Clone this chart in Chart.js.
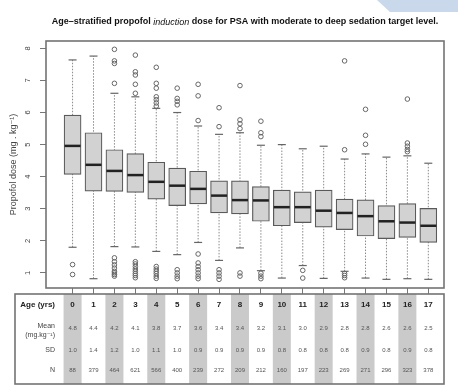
<!DOCTYPE html>
<html>
<head>
<meta charset="utf-8">
<script src="https://cdn.jsdelivr.net/npm/chart.js@4.4.0/dist/chart.umd.min.js"></script>
<style>
	html, body { margin: 0; padding: 0; background: #fff; }
	#wrap { position: relative; width: 458px; height: 387px; }
	#corner {
		position: absolute; top: 0; right: 0; width: 81px; height: 12px;
		background: #c9d8ea;
		clip-path: polygon(0 0, 100% 0, 100% 100%, 16% 100%);
	}
</style>
</head>
<body>
<div id="wrap">
	<canvas id="myChart" width="458" height="387"></canvas>
	<div id="corner"></div>
</div>
<script>
	// Возраст (лет) и пятичисловые сводки по каждой группе
	const ages = [0, 1, 2, 3, 4, 5, 6, 7, 8, 9, 10, 11, 12, 13, 14, 15, 16, 17];
	const lowWhisker = [1.80, 0.82, 1.82, 1.81, 1.67, 1.57, 1.95, 1.39, 1.78, 1.07, 0.84, 1.23, 0.83, 1.05, 0.84, 0.80, 0.82, 0.80];
	const q1 = [4.07, 3.55, 3.54, 3.51, 3.30, 3.10, 3.15, 2.87, 2.84, 2.61, 2.47, 2.57, 2.43, 2.35, 2.15, 2.07, 2.11, 1.95];
	const medians = [4.96, 4.37, 4.18, 4.05, 3.84, 3.72, 3.62, 3.41, 3.27, 3.26, 3.05, 3.05, 2.94, 2.87, 2.77, 2.61, 2.57, 2.47];
	const q3 = [5.92, 5.37, 4.84, 4.72, 4.45, 4.27, 4.17, 3.87, 3.87, 3.69, 3.58, 3.53, 3.58, 3.30, 3.28, 3.10, 3.16, 3.01];
	const highWhisker = [7.64, 7.76, 6.60, 6.49, 6.13, 6.00, 5.58, 5.32, 5.37, 4.98, 5.00, 4.87, 4.95, 4.55, 4.71, 4.61, 4.65, 4.42];
	const outliers = [
		[1.26, 0.95],
		[],
		[7.97, 7.61, 7.53, 6.91, 1.47, 1.35, 1.25, 1.15, 1.05, 1.0, 0.95, 0.9],
		[7.79, 7.27, 7.17, 6.88, 6.6, 1.35, 1.28, 1.2, 1.12, 1.05, 0.98, 0.92, 0.85],
		[7.41, 6.91, 6.76, 6.49, 6.4, 6.3, 6.2, 1.2, 1.12, 1.05, 0.98, 0.9, 0.83],
		[6.76, 6.44, 6.35, 6.24, 1.1, 1.0, 0.9, 0.82],
		[6.88, 6.52, 5.75, 1.59, 1.31, 1.2, 1.1, 1.0, 0.9, 0.82],
		[6.15, 5.56, 1.1, 1.0, 0.9, 0.8],
		[6.84, 5.77, 5.65, 5.5, 1.0, 0.9],
		[5.73, 5.37, 5.25, 0.99, 0.9, 0.82],
		[],
		[1.08, 0.84],
		[],
		[7.61, 4.84, 0.98, 0.92, 0.85],
		[6.10, 5.29, 5.01],
		[],
		[6.42, 5.05, 4.95, 4.85, 4.78],
		[]
	];

	// Таблица под графиком
	const means = [4.8, 4.4, 4.2, 4.1, 3.8, 3.7, 3.6, 3.4, 3.4, 3.2, 3.1, 3.0, 2.9, 2.8, 2.8, 2.6, 2.6, 2.5];
	const sds = [1.0, 1.4, 1.2, 1.0, 1.1, 1.0, 0.9, 0.9, 0.9, 0.9, 0.8, 0.8, 0.8, 0.8, 0.9, 0.8, 0.9, 0.8];
	const counts = [88, 379, 464, 621, 566, 400, 239, 272, 209, 212, 160, 197, 223, 269, 271, 296, 323, 378];

	const yTicks = [1, 2, 3, 4, 5, 6, 7, 8];
	const FONT = '"Liberation Sans", Arial, "DejaVu Sans", sans-serif';

	// Заголовок с курсивом
	const titlePlugin = {
		id: 'titlePlugin',
		afterDraw(chart) {
			const ctx = chart.ctx;
			const parts = [
				['bold 9px ' + FONT, 'Age\u2013stratified propofol '],
				['italic 9px ' + FONT, 'induction'],
				['bold 9px ' + FONT, ' dose for PSA with moderate to deep sedation target level.']
			];
			ctx.save();
			let total = 0;
			parts.forEach(p => { ctx.font = p[0]; total += ctx.measureText(p[1]).width; });
			const area = chart.chartArea;
			let x = (area.left + area.right) / 2 - total / 2;
			ctx.fillStyle = '#111';
			ctx.textBaseline = 'middle';
			ctx.textAlign = 'left';
			parts.forEach(p => {
				ctx.font = p[0];
				ctx.fillText(p[1], x, 22);
				x += ctx.measureText(p[1]).width;
			});
			ctx.restore();
		}
	};

	// Рамка вокруг области графика
	const framePlugin = {
		id: 'framePlugin',
		afterDatasetsDraw(chart) {
			const {ctx, chartArea: a} = chart;
			ctx.save();
			ctx.strokeStyle = '#737373';
			ctx.lineWidth = 1.6;
			ctx.strokeRect(a.left, a.top, a.right - a.left, a.bottom - a.top);
			ctx.restore();
		}
	};

	// Таблица: Age / Mean / SD / N
	const tablePlugin = {
		id: 'tablePlugin',
		afterDraw(chart) {
			const ctx = chart.ctx;
			const xs = chart.scales.x;
			const top = 294, bottom = 384, left = 15, right = chart.chartArea.right;
			ctx.save();
			ctx.fillStyle = '#cacaca';
			ages.forEach((a, i) => {
				if (i % 2 === 0) {
					const cx = xs.getPixelForValue(a);
					ctx.fillRect(cx - 9, top, 18, bottom - top);
				}
			});
			ctx.strokeStyle = '#737373';
			ctx.lineWidth = 1.6;
			ctx.strokeRect(left, top, right - left, bottom - top);

			ctx.textBaseline = 'middle';
			ctx.textAlign = 'right';
			ctx.fillStyle = '#222';
			ctx.font = 'bold 8px ' + FONT;
			ctx.fillText('Age (yrs)', 55, 305);
			ctx.font = '7px ' + FONT;
			ctx.fillStyle = '#444';
			ctx.fillText('Mean', 55, 326);
			ctx.fillText('(mg.kg\u207B\u00B9)', 55, 335);
			ctx.fillText('SD', 55, 350);
			ctx.fillText('N', 55, 370);

			ctx.textAlign = 'center';
			ages.forEach((a, i) => {
				const cx = xs.getPixelForValue(a);
				ctx.fillStyle = '#222';
				ctx.font = 'bold 8px ' + FONT;
				ctx.fillText(String(a), cx, 305);
				ctx.fillStyle = '#555';
				ctx.font = '6px ' + FONT;
				ctx.fillText(means[i].toFixed(1), cx, 328);
				ctx.fillText(sds[i].toFixed(1), cx, 350);
				ctx.fillText(String(counts[i]), cx, 370);
			});
			ctx.restore();
		}
	};

	// Данные для наборов
	const boxData = ages.map((a, i) => ({x: a, y: [q1[i], q3[i]]}));
	const medianData = ages.map((a, i) => ({x: a, y: medians[i]}));
	const whiskerData = [];
	const capData = [];
	ages.forEach((a, i) => {
		whiskerData.push({x: a, y: lowWhisker[i]}, {x: a, y: highWhisker[i]}, {x: a, y: null});
		capData.push({x: a, y: lowWhisker[i]}, {x: a, y: highWhisker[i]});
	});
	const outlierData = [];
	ages.forEach((a, i) => outliers[i].forEach(v => outlierData.push({x: a, y: v})));

	const config = {
		type: 'bar',
		data: {
			datasets: [
				{
					type: 'line',
					data: whiskerData,
					borderColor: '#8a8a8a',
					borderWidth: 1,
					borderDash: [1.5, 1.5],
					pointRadius: 0,
					spanGaps: false,
					order: 4
				},
				{
					type: 'line',
					showLine: false,
					data: capData,
					pointStyle: 'line',
					pointRadius: 4,
					borderColor: '#666',
					borderWidth: 1.2,
					order: 3
				},
				{
					data: boxData,
					backgroundColor: '#d2d2d2',
					borderColor: '#5a5a5a',
					borderWidth: 1.2,
					borderSkipped: false,
					barThickness: 17,
					order: 2
				},
				{
					type: 'line',
					showLine: false,
					data: medianData,
					pointStyle: 'line',
					pointRadius: 8,
					borderColor: '#222',
					borderWidth: 2.5,
					order: 1
				},
				{
					type: 'line',
					showLine: false,
					data: outlierData,
					pointStyle: 'circle',
					pointRadius: 2.3,
					borderColor: '#666',
					backgroundColor: 'rgba(0,0,0,0)',
					borderWidth: 1,
					order: 0
				}
			]
		},
		options: {
			responsive: false,
			animation: false,
			devicePixelRatio: 1,
			layout: { padding: { top: 41, right: 14, bottom: 93, left: 0 } },
			plugins: {
				legend: { display: false },
				tooltip: { enabled: false },
				title: { display: false }
			},
			scales: {
				x: {
					type: 'linear',
					min: -1.27,
					max: 17.75,
					offset: false,
					afterBuildTicks(scale) { scale.ticks = ages.map(v => ({value: v})); },
					afterFit(scale) { scale.height = 6; },
					ticks: { display: false },
					grid: { offset: false, drawOnChartArea: false, drawTicks: true, tickLength: 6, color: '#777' },
					border: { display: false }
				},
				y: {
					min: 0.53,
					max: 8.23,
					afterBuildTicks(scale) { scale.ticks = yTicks.map(v => ({value: v})); },
					afterFit(scale) { scale.width = 46; },
					ticks: {
						minRotation: 90,
						maxRotation: 90,
						crossAlign: 'center',
						padding: 10,
						color: '#444',
						font: { family: FONT, size: 7.5 }
					},
					grid: { drawOnChartArea: false, drawTicks: true, tickLength: 6, color: '#777' },
					border: { display: false },
					title: {
						display: true,
						text: 'Propofol dose (mg . kg\u207B\u00B9)',
						color: '#444',
						font: { family: FONT, size: 9 },
						padding: { top: 8.5, bottom: 0 }
					}
				}
			}
		},
		plugins: [titlePlugin, framePlugin, tablePlugin]
	};

	const myChart = new Chart(document.getElementById('myChart'), config);
</script>
</body>
</html>
